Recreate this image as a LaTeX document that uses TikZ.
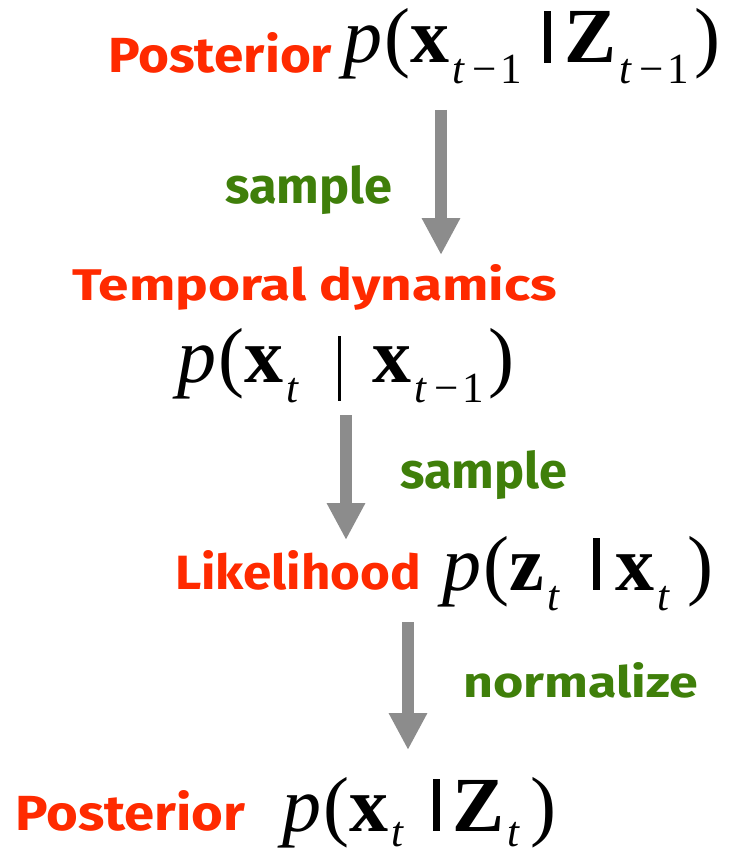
\documentclass[tikz,border=0pt]{standalone}
\usepackage{fontspec}
\setmainfont{Liberation Serif}
\newfontfamily\lbl{Fira Sans}
\usetikzlibrary{arrows.meta}
\definecolor{lblred}{HTML}{FF2A00}
\definecolor{lblgreen}{HTML}{3F7F0A}
\definecolor{arrgray}{HTML}{8C8C8C}
\newcommand{\Mp}{\textit{p}\hspace{0.03em}}
\newcommand{\Mb}[1]{\textbf{#1}}
\newcommand{\Ms}[1]{\hspace{0.04em}\raisebox{-0.26em}{\fontsize{43}{43}\selectfont #1}}
\newcommand{\Msl}[1]{\hspace{0.04em}\raisebox{-0.2em}{\fontsize{43}{43}\selectfont #1}}
\newcommand{\Mt}{\textit{t}}
\newcommand{\Mtm}{\textit{t}\hspace{0.16em}−\hspace{0.1em}1}
\newcommand{\Mbar}{\rule{0.09em}{0.67em}}
\newcommand{\Mbarthin}{\rule[-0.24em]{0.045em}{0.83em}}
\tikzset{
  lblr/.style={font=\lbl\bfseries, text=lblred, inner sep=0pt, anchor=base west},
  lblg/.style={font=\lbl\bfseries, text=lblgreen, inner sep=0pt, anchor=base west},
  formula/.style={font=\fontsize{78}{78}\selectfont, inner sep=0pt, anchor=base west},
  flow/.style={draw=arrgray, line width=12pt, -{Triangle[width=36pt,length=37pt]}}
}
\begin{document}
\begin{tikzpicture}[x=1pt,y=-1pt]
\useasboundingbox (0,0) rectangle (740,853);
\node[lblr] (post1) at (108,73) {\resizebox{224pt}{40pt}{Posterior}};
\node[formula] (f1) at (343,63) {\Mp(\Mb{x}\Ms{\Mtm}\hspace{0.28em}\Mbar\hspace{0.17em}\Mb{Z}\Ms{\Mtm}\hspace{0.06em})};
\node[lblg] (s1) at (225,203) {\resizebox{167pt}{38pt}{sample}};
\node[lblr] (temp) at (72,300) {\resizebox{485pt}{36pt}{Temporal dynamics}};
\node[formula] (f2) at (177,382) {\Mp(\Mb{x}\Ms{\Mt}\hspace{0.49em}\Mbarthin\hspace{0.4em}\Mb{x}\Ms{\Mtm}\hspace{0.06em})};
\node[lblg] (s2) at (400,488) {\resizebox{167pt}{38pt}{sample}};
\node[lblr] (lik) at (175,589) {\resizebox{246pt}{39pt}{Likelihood}};
\node[formula] (f3) at (442,590) {\Mp(\Mb{z}\Ms{\Mt}\hspace{0.42em}\Mbar\hspace{0.2em}\Mb{x}\Ms{\Mt}\hspace{0.22em})};
\node[lblg] (norm) at (463,697) {\resizebox{235pt}{35pt}{normalize}};
\node[lblr] (post2) at (15,830) {\resizebox{230pt}{40pt}{Posterior}};
\node[formula] (f4) at (282,831) {\Mp(\Mb{x}\Msl{\Mt}\hspace{0.36em}\Mbar\hspace{0.16em}\Mb{Z}\Msl{\Mt}\hspace{0.13em})};
\coordinate (a1s) at (441,110); \coordinate (a1e) at (441,255);
\coordinate (a2s) at (346,415); \coordinate (a2e) at (346,540);
\coordinate (a3s) at (408,622); \coordinate (a3e) at (408,750);
\draw[flow] (a1s) -- (a1e);
\draw[flow] (a2s) -- (a2e);
\draw[flow] (a3s) -- (a3e);
\end{tikzpicture}
\end{document}
